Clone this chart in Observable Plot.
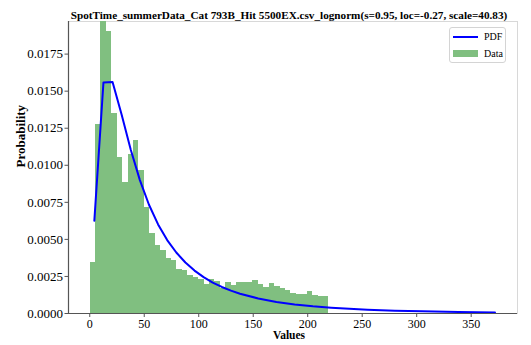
<!DOCTYPE html>
<html><head><meta charset="utf-8">
<script src="https://cdn.jsdelivr.net/npm/d3@7"></script>
<script src="https://cdn.jsdelivr.net/npm/@observablehq/plot@0.6"></script>
<style>
body{margin:0;background:#fff;}
#wrap{position:relative;width:531px;height:345px;font-family:"Liberation Serif",serif;}
#legend{position:absolute;left:449px;top:27px;width:57px;height:36px;border:1px solid #d4d4d4;border-radius:3px;background:#fff;box-sizing:border-box;font-size:10px;color:#000;}
#legend .sw{position:absolute;left:3px;width:25px;}
#legend .lb{position:absolute;left:34px;line-height:10px;}
</style></head><body><div id="wrap"></div>
<script>
const title = "SpotTime_summerData_Cat 793B_Hit 5500EX.csv_lognorm(s=0.95, loc=-0.27, scale=40.83)";
const xLabel = "Values";
const yLabel = "Probability";
const seriesNames = ["PDF", "Data"];
const xTicks = [0, 50, 100, 150, 200, 250, 300, 350];
const yTicks = [0, 0.0025, 0.005, 0.0075, 0.01, 0.0125, 0.015, 0.0175];
const xDomain = [-19.5, 392.5];
const yDomain = [0, 0.0197];

// histogram bin edges (45) and density heights (44)
const binEdges = [0.30, 5.28, 10.26, 15.24, 20.22, 25.20, 30.18, 35.16, 40.14, 45.12, 50.10, 55.08, 60.06, 65.04, 70.02, 75.00, 79.98, 84.96, 89.94, 94.92, 99.90, 104.88, 109.86, 114.84, 119.82, 124.80, 129.78, 134.76, 139.74, 144.72, 149.70, 154.68, 159.66, 164.64, 169.62, 174.60, 179.58, 184.56, 189.54, 194.52, 199.50, 204.48, 209.46, 214.44, 219.42];
const binDensity = [0.00342, 0.01278, 0.0197, 0.0190, 0.0135, 0.0105, 0.00885, 0.0107, 0.0117, 0.00964, 0.00716, 0.00537, 0.00458, 0.00425, 0.00369, 0.00357, 0.00294, 0.00290, 0.00256, 0.00240, 0.00230, 0.00194, 0.00230, 0.00216, 0.00172, 0.00206, 0.00190, 0.00207, 0.00207, 0.00207, 0.00222, 0.00198, 0.00178, 0.00202, 0.00182, 0.00172, 0.00155, 0.00137, 0.00131, 0.00131, 0.00150, 0.00121, 0.00112, 0.00117];

// fitted PDF curve points
const pdfX = [4.21, 12.57, 20.92, 29.28, 37.63, 45.99, 54.34, 62.70, 71.05, 79.41, 87.76, 96.12, 104.47, 112.83, 121.18, 129.54, 137.89, 154.60, 171.31, 188.02, 204.73, 221.44, 238.15, 254.86, 279.93, 304.99, 338.41, 371.83];
const pdfY = [0.006265, 0.015581, 0.015616, 0.013411, 0.011046, 0.009000, 0.007337, 0.006010, 0.004956, 0.004114, 0.003440, 0.002895, 0.002452, 0.002089, 0.001790, 0.001542, 0.001334, 0.001013, 0.000781, 0.000611, 0.000484, 0.000388, 0.000314, 0.000256, 0.000192, 0.000146, 0.000104, 0.0000754];

const bins = binDensity.map((d, i) => ({x1: binEdges[i], x2: binEdges[i + 1], y: d}));
const pdf = pdfX.map((x, i) => ({x, y: pdfY[i]}));

const barColor = "#80bf80";
const lineColor = "#0000ff";
const spine = "#555";

const chart = Plot.plot({
  width: 531, height: 345,
  marginLeft: 68, marginRight: 14, marginTop: 21, marginBottom: 32,
  style: {fontFamily: "'Liberation Serif', serif", fontSize: "12.5px", background: "#fff", color: "#000", overflow: "visible"},
  x: {domain: xDomain},
  y: {domain: yDomain},
  marks: [
    Plot.frame({stroke: "#d8d8d8"}),
    Plot.rectY(bins, {x1: "x1", x2: "x2", y1: 0, y2: "y", fill: barColor, shapeRendering: "crispEdges"}),
    Plot.line(pdf, {x: "x", y: "y", stroke: lineColor, strokeWidth: 2}),
    Plot.ruleX([xDomain[0]], {stroke: spine, strokeWidth: 1.2}),
    Plot.ruleY([yDomain[0]], {stroke: spine, strokeWidth: 1.2}),
    Plot.axisX({ticks: xTicks, tickFormat: d => String(d), tickSize: 4, tickPadding: 2, stroke: spine, label: null, fontSize: 12}),
    Plot.axisY({ticks: yTicks, tickFormat: d => d.toFixed(4), tickSize: 3.5, tickPadding: 2, stroke: spine, label: null, fontSize: 13}),
    Plot.text([title], {frameAnchor: "top", dx: -4, dy: -10, fontWeight: "bold", fontSize: 11.2, fill: "#000"}),
    Plot.text([xLabel], {frameAnchor: "bottom", dx: -4, dy: 25, fontWeight: "bold", fontSize: 11.5, fill: "#000"}),
    Plot.text([yLabel], {frameAnchor: "left", dx: -48, rotate: -90, fontWeight: "bold", fontSize: 13, fill: "#000"})
  ]
});

const wrap = document.getElementById("wrap");
wrap.appendChild(chart);
const leg = document.createElement("div");
leg.id = "legend";
leg.innerHTML =
  `<div class="sw" style="top:8px;height:2px;background:${lineColor}"></div>` +
  `<div class="lb" style="top:4px">${seriesNames[0]}</div>` +
  `<div class="sw" style="top:22px;height:7px;background:${barColor}"></div>` +
  `<div class="lb" style="top:21px">${seriesNames[1]}</div>`;
wrap.appendChild(leg);
</script>
</body></html>
